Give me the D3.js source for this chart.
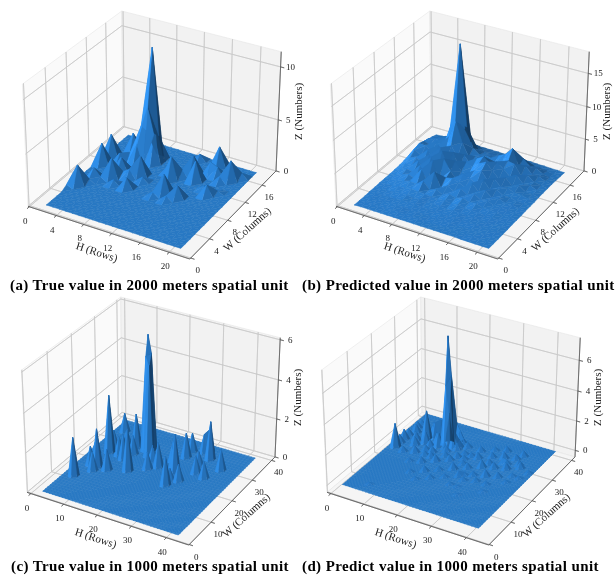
<!DOCTYPE html>
<html>
<head>
<meta charset="utf-8">
<title>Surface plots</title>
<script src="https://d3js.org/d3.v7.min.js" charset="utf-8"></script>
<style>
    html, body { margin: 0; padding: 0; background: #fff; }
    svg { display: block; filter: blur(0.35px); }
    text { font-family: "Liberation Serif", serif; fill: #222; }
    .title { font-weight: 700; font-size: 15px; letter-spacing: 0.39px; fill: #000; }
    .tick { font-size: 9px; text-anchor: middle; dominant-baseline: central; }
    .label { font-size: 11px; text-anchor: middle; dominant-baseline: central; }
</style>
</head>
<body>
<div id="chart"></div>
<script>
// tick labels
const hTicks2000 = [0, 4, 8, 12, 16, 20];
const wTicks2000 = [0, 4, 8, 12, 16];
const hTicks1000 = [0, 10, 20, 30, 40];
const wTicks1000 = [0, 10, 20, 30, 40];
const zTicksA = [0, 5, 10];
const zTicksB = [0, 5, 10, 15];
const zTicksC = [0, 2, 4, 6];
const zTicksD = [0, 2, 4, 6];

// grid positions of the surface along each axis
const hGrid2000 = d3.range(21).map(i => 1.6 + 0.96 * i);
const wGrid2000 = d3.range(1, 19);
const hGrid1000 = d3.range(2, 43);
const wGrid1000 = d3.range(2, 40);

// (a) non zero cells [row, column, Z], row and column count from 1, everything else is flat
const peaksA = [
    [2, 6, 2.0], [2, 11, 2.1], [2, 13, 2.2], [4, 15, 1.9], [7, 15, 10.7], [7, 14, 5.6], [6, 14, 3.4], [6, 13, 2.0],
    [8, 14, 3.0], [6, 15, 2.6], [8, 15, 2.4], [8, 11, 2.0], [5, 9, 2.0], [3, 8, 1.1], [5, 11, 1.3], [4, 12, 1.1],
    [8, 8, 1.1], [13, 9, 2.0], [12, 12, 2.3], [14, 14, 2.0], [15, 9, 1.3], [15, 13, 2.0], [18, 11, 1.1], [19, 15, 2.0],
    [16, 17, 2.0], [16, 15, 1.3], [13, 17, 0.7], [11, 13, 0.9], [17, 15, 1.0], [5, 13, 1.0], [7, 10, 0.9], [18, 14, 0.7],
    [20, 16, 0.6], [13, 13, 0.8], [6, 10, 0.5], [1, 5, 0.3], [3, 7, 0.4], [14, 8, 0.5], [12, 8, 0.5], [17, 12, 0.4],
    [19, 12, 0.3], [6, 8, 0.5], [4, 8, 0.4], [9, 10, 0.5]
];
// (b) every cell, rows are H, columns are W
const cellsB = [
    [0, 0, 0, .05, .05, .1, .1, .1, .15, .2, .3, .5, .7, .9, .7, .5, .3, .05],
    [.05, .05, .1, .1, .15, .2, .3, .4, .5, .8, 1.1, 1.7, 2.1, 1.8, 1.6, 1.1, .6, .1],
    [.05, .1, .1, .15, .2, .3, .5, .7, .9, .9, 1.4, 1.1, 2.0, 1.5, 1.9, 1.4, .8, .2],
    [.05, .1, .15, .2, .3, .5, .6, 1.0, .7, 1.8, 1.0, 2.2, 1.3, 2.4, 1.6, 1.9, .8, .2],
    [.05, .1, .2, .2, .4, .5, .9, .6, 2.0, .8, 2.4, 1.2, 2.7, 1.7, 2.8, 1.4, .9, .2],
    [.05, .15, .2, .3, .4, .7, .8, 2.4, 1.0, 3.0, 1.2, 3.2, 1.6, 3.8, 6.2, 2.1, .9, .2],
    [.05, .15, .2, .3, .3, .6, 1.6, .8, 3.4, 1.3, 3.6, 1.5, 3.2, 6.4, 17.6, 4.0, 1.1, .3],
    [.05, .1, .15, .3, .4, .5, .5, 2.6, .7, 3.4, 1.4, 3.1, 1.8, 3.4, 5.2, 2.2, .9, .2],
    [.05, .1, .15, .2, .3, .4, .9, .5, 1.4, 1.8, 2.7, 1.0, 2.4, 1.5, 2.2, 1.4, .8, .2],
    [.05, .1, .1, .2, .3, .4, .4, 1.1, 1.6, .7, 1.4, 2.2, 1.1, 1.8, 1.4, 1.2, .7, .2],
    [.05, .05, .1, .15, .3, .5, .8, .6, 1.3, 1.9, .9, 1.7, 2.4, 1.3, 1.6, 1.1, .7, .2],
    [.05, .05, .1, .2, .2, .3, .5, 1.3, .8, 1.5, 2.1, 2.6, 3.0, 2.0, 1.3, 1.1, .6, .15],
    [.05, .05, .1, .15, .3, .5, .8, .6, 1.8, 1.1, 2.4, 3.1, 2.2, 1.8, 2.2, 1.3, .7, .15],
    [.05, .05, .1, .15, .2, .3, .5, 1.1, .8, 2.0, 1.2, 2.1, 2.8, 1.7, 2.7, 1.5, .6, .15],
    [.05, .05, .05, .1, .15, .3, .6, .5, 1.3, .8, 1.8, 1.1, 2.0, 2.6, 3.9, 1.4, .7, .15],
    [.05, .05, .05, .1, .15, .2, .3, .7, .5, 1.1, .8, 1.6, 1.1, 2.4, 1.4, 2.0, .6, .15],
    [0, .05, .05, .1, .1, .15, .3, .3, .7, .5, 1.0, .6, 1.6, .9, 1.8, 1.1, .5, .1],
    [0, .05, .05, .05, .1, .15, .2, .3, .3, .5, .5, 1.0, .6, 1.3, .8, 1.1, .4, .1],
    [0, 0, .05, .05, .05, .1, .1, .2, .3, .25, .5, .3, .7, .5, .8, .5, .3, .05],
    [0, 0, 0, .05, .05, .05, .1, .1, .15, .15, .25, .3, .25, .3, .3, .25, .15, .05],
    [0, 0, 0, 0, 0, .05, .05, .05, .1, .1, .1, .15, .15, .15, .15, .1, .05, 0]
];
// (c) non zero cells [H, W, Z]
const peaksC = [
    [15, 30, 5.9], [16, 30, 5.0], [15, 29, 4.9], [16, 29, 4.5], [7, 24, 3.0], [5, 11, 2.0], [8, 17, 2.0], [6, 17, 1.0],
    [5, 34, 1.0], [12, 29, 1.8], [16, 19, 2.2], [11, 17, 1.1], [8, 15, 1.0], [28, 18, 1.5], [27, 24, 2.0], [22, 24, 1.3],
    [26, 31, 1.3], [26, 34, 1.0], [32, 33, 2.0], [29, 35, 1.0], [37, 30, 1.1], [35, 25, 0.9], [32, 26, 0.9], [30, 21, 0.9],
    [28, 20, 0.7], [20, 22, 0.9], [26, 25, 1.2], [7, 26, 1.0], [10, 24, 1.0], [13, 26, 1.0], [17, 27, 1.0], [9, 29, 0.8],
    [24, 28, 1.1], [31, 29, 0.8], [12, 23, 1.3], [30, 36, 1.2], [19, 26, 0.8], [4, 22, 0.6]
];
// (d) non zero cells [H, W, Z]
const peaksD = [
    [15, 30, 7.1], [16, 30, 4.6], [15, 29, 4.0], [16, 29, 2.2], [9, 29, 1.9], [4, 22, 1.6], [4, 24, .6], [4, 26, .7],
    [4, 28, .5], [5, 30, .6], [4, 32, .5], [4, 34, .3], [11, 30, 1.1], [17, 31, 1.3], [13, 32, 1.0], [10, 27, .8],
    [12, 26, .5], [8, 25, .6], [7, 21, .4], [10, 22, .5], [14, 24, .45], [17, 26, .4], [19, 28, .5], [21, 30, .4],
    [11, 18, .25], [14, 19, .4], [17, 21, .5], [20, 23, .4], [23, 25, .3], [26, 27, .45], [29, 29, .4], [32, 30, .5],
    [35, 31, .4], [38, 28, .45], [41, 27, .25], [14, 14, .25], [17, 16, .4], [20, 18, .3], [23, 20, .5], [26, 22, .4],
    [29, 24, .55], [32, 25, .45], [35, 26, .5], [38, 24, .25], [17, 12, .2], [20, 14, .3], [23, 16, .25], [26, 18, .4],
    [29, 20, .3], [32, 21, .5], [35, 22, .4], [38, 21, .2], [26, 14, .2], [28, 17, .25], [31, 18, .3], [34, 18, .25],
    [22, 27, .3], [25, 30, .4], [28, 32, .3], [31, 33, .4], [36, 33, .45], [33, 28, .4], [8, 5, .15], [35, 15, .15],
    [28, 14, .12], [30, 11, .12], [40, 24, .2], [15, 22, .4], [18, 24, .35], [21, 25, .4], [24, 23, .3], [27, 19, .25],
    [13, 22, .35], [12, 24, .4], [16, 27, .45], [19, 31, .4], [24, 27, .3], [30, 26, .4], [34, 28, .35], [37, 29, .4],
    [12, 31, 1.2], [14, 27, 1.0], [18, 28, 1.3], [13, 28, .8], [10, 31, .9], [18, 31, .9], [19, 29, .6], [7, 27, .6]
];

const titles = [
    "(a) True value in 2000 meters spatial unit",
    "(b) Predicted value in 2000 meters spatial unit",
    "(c) True value in 1000 meters spatial unit",
    "(d) Predict value in 1000 meters spatial unit"
];

// turn peak lists into a full grid
function gridFromPeaks(rows, cols, peaks, rowStart, colStart) {
    const m = d3.range(rows).map(() => d3.range(cols).map(() => 0));
    peaks.forEach(p => { m[p[0] - rowStart][p[1] - colStart] = p[2]; });
    return m;
}

const panels = [
    { title: titles[0], tx: 10, ty: 289.5, hs: hGrid2000, ws: wGrid2000, z: gridFromPeaks(21, 18, peaksA, 1, 1),
      hLim: [-0.2, 22.8], wLim: [-0.2, 19.4], zLim: [0, 11.4], hTicks: hTicks2000, wTicks: wTicks2000, zTicks: zTicksA,
      left: 28, right: 276, front: 259, top: 11 },
    { title: titles[1], tx: 302, ty: 289.5, hs: hGrid2000, ws: wGrid2000, z: cellsB,
      hLim: [-0.2, 22.8], wLim: [-0.2, 19.4], zLim: [0, 18.2], hTicks: hTicks2000, wTicks: wTicks2000, zTicks: zTicksB,
      left: 336, right: 584, front: 259, top: 11 },
    { title: titles[2], tx: 11, ty: 571, hs: hGrid1000, ws: wGrid1000, z: gridFromPeaks(41, 38, peaksC, 2, 2),
      hLim: [-1.2, 46.3], wLim: [-0.2, 41.8], zLim: [0, 6.1], hTicks: hTicks1000, wTicks: wTicks1000, zTicks: zTicksC,
      left: 27, right: 275, front: 545, top: 297 },
    { title: titles[3], tx: 302, ty: 571, hs: hGrid1000, ws: wGrid1000, z: gridFromPeaks(41, 38, peaksD, 2, 2),
      hLim: [-1.2, 46.3], wLim: [-0.2, 41.8], zLim: [-0.45, 7.45], hTicks: hTicks1000, wTicks: wTicks1000, zTicks: zTicksD,
      left: 327, right: 575, front: 545, top: 297 }
];

const width = 616, height = 576;
const svg = d3.select("#chart").append("svg").attr("width", width).attr("height", height);

// camera: elevation 30, azimuth -60, box 4:4:3
const dist = 8.75;
function camera(x, y, z) {
    const px = x - 0.5, py = y - 0.5, pz = z - 0.375;
    const u = 0.866 * px + 0.5 * py;
    const v = -0.25 * px + 0.433 * py + 0.866 * pz;
    const e = 0.433 * px - 0.75 * py + 0.5 * pz;
    const w = 1 - e / dist;
    return { xs: u / w, ys: v / w, depth: e };
}

// light from the front left, shade goes from .3 to 1 of the base colour
const base = d3.rgb(52, 156, 255);
const light = [-0.667, -0.667, 0.333];
const shadeScale = d3.scaleLinear().domain([-1, 1]).range([0.3, 1]);

function faceColor(a, b, c) {
    const ux = b[0] - a[0], uy = b[1] - a[1], uz = b[2] - a[2];
    const vx = c[0] - a[0], vy = c[1] - a[1], vz = c[2] - a[2];
    let nx = uy * vz - uz * vy, ny = uz * vx - ux * vz, nz = ux * vy - uy * vx;
    const len = Math.hypot(nx, ny, nz);
    if (nz < 0) { nx = -nx; ny = -ny; nz = -nz; }
    const k = shadeScale((nx * light[0] + ny * light[1] + nz * light[2]) / len);
    return d3.rgb(base.r * k, base.g * k, base.b * k).formatHex();
}

panels.forEach(drawPanel);

function drawPanel(p) {
    const g = svg.append("g");
    const hS = d3.scaleLinear().domain(p.hLim).range([0, 1]);
    const wS = d3.scaleLinear().domain(p.wLim).range([0, 1]);
    const zS = d3.scaleLinear().domain(p.zLim).range([0, 0.75]);
    const sx = d3.scaleLinear().domain([camera(0, 0, 0).xs, camera(1, 1, 0).xs]).range([p.left, p.right]);
    const sy = d3.scaleLinear().domain([camera(1, 0, 0).ys, camera(0, 1, 0.75).ys]).range([p.front, p.top]);

    const project = (h, w, z) => {
        const c = camera(hS(h), wS(w), zS(z));
        return [sx(c.xs), sy(c.ys), c.depth];
    };
    const poly = pts => "M" + pts.map(q => q[0].toFixed(2) + "," + q[1].toFixed(2)).join("L") + "Z";
    const seg = (a, b) => poly([a, b]);

    const [h0, h1] = p.hLim, [w0, w1] = p.wLim, [z0, z1] = p.zLim;

    // the three panes
    const panes = [
        { d: poly([project(h0, w0, z0), project(h0, w1, z0), project(h0, w1, z1), project(h0, w0, z1)]), fill: "#fafafa" },
        { d: poly([project(h0, w1, z0), project(h1, w1, z0), project(h1, w1, z1), project(h0, w1, z1)]), fill: "#f2f2f2" },
        { d: poly([project(h0, w0, z0), project(h1, w0, z0), project(h1, w1, z0), project(h0, w1, z0)]), fill: "#f5f5f5" }
    ];
    g.selectAll(".pane").data(panes).join("path").attr("class", "pane")
        .attr("d", d => d.d).attr("fill", d => d.fill)
        .attr("stroke", "#e6e6e6").attr("stroke-width", 0.6);

    // grid lines on the panes
    const gridLines = [];
    p.hTicks.forEach(t => {
        gridLines.push(seg(project(t, w0, z0), project(t, w1, z0)));
        gridLines.push(seg(project(t, w1, z0), project(t, w1, z1)));
    });
    p.wTicks.forEach(t => {
        gridLines.push(seg(project(h1, t, z0), project(h0, t, z0)));
        gridLines.push(seg(project(h0, t, z0), project(h0, t, z1)));
    });
    p.zTicks.forEach(t => {
        gridLines.push(seg(project(h0, w0, t), project(h0, w1, t)));
        gridLines.push(seg(project(h0, w1, t), project(h1, w1, t)));
    });
    g.selectAll(".grid").data(gridLines).join("path").attr("class", "grid")
        .attr("d", d => d).attr("fill", "none").attr("stroke", "#c8c8c8").attr("stroke-width", 0.7);

    // axis lines with their tick marks
    const axisLines = [
        seg(project(h0, w0, z0), project(h1, w0, z0)),
        seg(project(h1, w0, z0), project(h1, w1, z0)),
        seg(project(h1, w1, z0), project(h1, w1, z1))
    ];
    p.hTicks.forEach(t => axisLines.push(seg(project(t, w0, z0), project(t, w0 - 0.022 * (w1 - w0), z0))));
    p.wTicks.forEach(t => axisLines.push(seg(project(h1, t, z0), project(h1 + 0.022 * (h1 - h0), t, z0))));
    p.zTicks.forEach(t => axisLines.push(seg(project(h1, w1, t), project(h1 + 0.022 * (h1 - h0), w1, t))));
    g.selectAll(".axis").data(axisLines).join("path").attr("class", "axis")
        .attr("d", d => d).attr("fill", "none").attr("stroke", "#555").attr("stroke-width", 0.6);

    // surface triangles, far ones first
    const faces = [];
    for (let i = 0; i < p.hs.length - 1; i++) {
        for (let j = 0; j < p.ws.length - 1; j++) {
            const a = [p.hs[i], p.ws[j], p.z[i][j]];
            const b = [p.hs[i + 1], p.ws[j], p.z[i + 1][j]];
            const c = [p.hs[i + 1], p.ws[j + 1], p.z[i + 1][j + 1]];
            const e = [p.hs[i], p.ws[j + 1], p.z[i][j + 1]];
            [[a, b, c], [a, c, e]].forEach(t => {
                const pts = t.map(q => project(q[0], q[1], q[2]));
                faces.push({ d: poly(pts), depth: d3.mean(pts, q => q[2]), fill: faceColor(t[0], t[1], t[2]) });
            });
        }
    }
    faces.sort((m, n) => m.depth - n.depth);
    g.selectAll(".face").data(faces).join("path").attr("class", "face")
        .attr("d", d => d.d).attr("fill", d => d.fill).attr("stroke", d => d.fill)
        .attr("stroke-width", 0.5).attr("stroke-linejoin", "round");

    // tick labels
    g.selectAll(".hl").data(p.hTicks).join("text").attr("class", "tick hl").text(d => d)
        .attr("x", d => project(d, w0, z0)[0] - 4).attr("y", d => project(d, w0, z0)[1] + 14);
    g.selectAll(".wl").data(p.wTicks).join("text").attr("class", "tick wl").text(d => d)
        .attr("x", d => project(h1, d, z0)[0] + 7).attr("y", d => project(h1, d, z0)[1] + 12);
    g.selectAll(".zl").data(p.zTicks).join("text").attr("class", "tick zl").text(d => d)
        .attr("x", d => project(h1, w1, d)[0] + 10).attr("y", d => project(h1, w1, d)[1]);

    // axis labels, rotated along their axis
    const mid = (a, b) => [(a[0] + b[0]) / 2, (a[1] + b[1]) / 2];
    const hm = mid(project(h0, w0, z0), project(h1, w0, z0));
    const wm = mid(project(h1, w0, z0), project(h1, w1, z0));
    const zm = mid(project(h1, w1, z0), project(h1, w1, z1));
    g.append("text").attr("class", "label").text("H (Rows)")
        .attr("transform", `translate(${hm[0] - 12},${hm[1] + 19}) rotate(18)`);
    g.append("text").attr("class", "label").text("W (Columns)")
        .attr("transform", `translate(${wm[0] + 14},${wm[1] + 14}) rotate(-42)`);
    g.append("text").attr("class", "label").text("Z (Numbers)")
        .attr("transform", `translate(${zm[0] + 19},${zm[1]}) rotate(-90)`);

    g.append("text").attr("class", "title").attr("x", p.tx).attr("y", p.ty).text(p.title);
}
</script>
</body>
</html>
